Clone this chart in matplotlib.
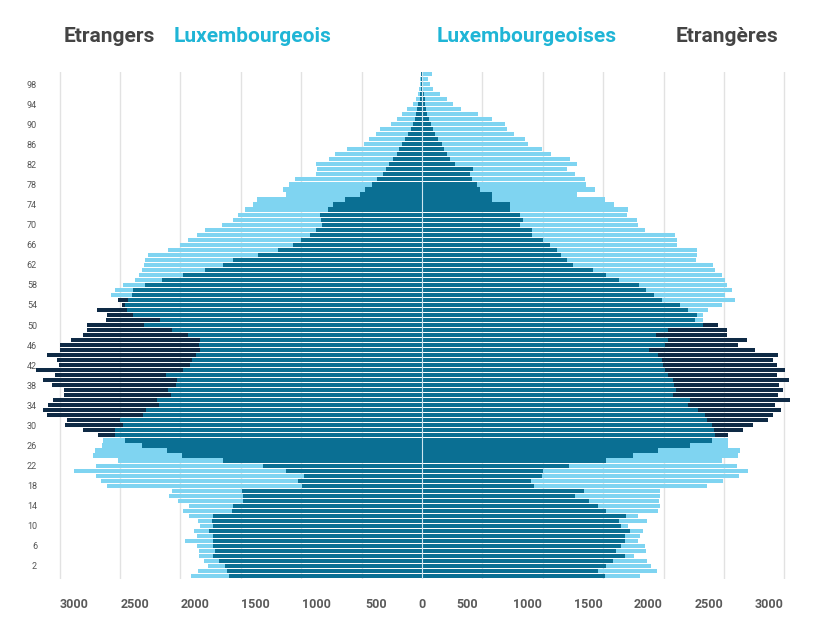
import numpy as np
import matplotlib
matplotlib.use("Agg")
import matplotlib.pyplot as plt
from matplotlib.transforms import ScaledTranslation

plt.rcParams['font.family'] = ['Roboto', 'DejaVu Sans']

ages = list(range(0, 101))

# hommes (gauche)
lux_h = [1915, 1852, 1769, 1805, 1843, 1843, 1865, 1962, 1865, 1887,
         1838, 1852, 1926, 1976, 1926, 2017, 2092, 2072, 2610, 2660,
         2700, 2881, 2699, 2514, 2726, 2707, 2650, 2644, 2541, 2541,
         2472, 2500, 2307, 2285, 2174, 2196, 2081, 2100, 2036, 2031,
         2119, 1976, 1920, 1907, 1871, 1838, 1843, 1838, 1934, 2072,
         2301, 2169, 2390, 2445, 2460, 2431, 2577, 2541, 2473, 2376,
         2340, 2320, 2300, 2290, 2266, 2100, 2003, 1934, 1865, 1796,
         1658, 1562, 1520, 1465, 1396, 1363, 1126, 1153, 1099, 1051,
         877, 872, 877, 768, 720, 624, 480, 437, 381, 348,
         260, 210, 168, 124, 77, 50, 30, 25, 20, 15, 10]
etr_h = [1595, 1617, 1631, 1678, 1733, 1713, 1727, 1727, 1733, 1760,
         1727, 1741, 1733, 1575, 1562, 1479, 1479, 1493, 989, 1024,
         977, 1126, 1314, 1645, 1989, 2114, 2320, 2459, 2680, 2804,
         2955, 2942, 3107, 3140, 3093, 3052, 2964, 2964, 3060, 3140,
         3038, 3198, 3002, 3019, 3107, 2997, 2997, 2908, 2809, 2771,
         2771, 2616, 2611, 2686, 2480, 2514, 2404, 2390, 2293, 2155,
         1976, 1796, 1645, 1562, 1355, 1190, 1067, 1000, 927, 880,
         830, 835, 844, 780, 734, 640, 513, 470, 417, 370,
         320, 295, 271, 240, 210, 190, 168, 140, 113, 90,
         72, 60, 50, 38, 30, 20, 15, 10, 8, 5, 5]

# femmes (droite)
lux_f = [1805, 1943, 1900, 1860, 1755, 1854, 1846, 1791, 1805, 1826,
         1708, 1865, 1791, 1956, 1970, 1964, 1970, 1970, 2356, 2494,
         2627, 2701, 2605, 2480, 2618, 2632, 2536, 2536, 2425, 2417,
         2398, 2356, 2342, 2288, 2205, 2218, 2080, 2102, 2086, 2080,
         2039, 2011, 1998, 1984, 1956, 1882, 2011, 2039, 1937, 2039,
         2329, 2323, 2329, 2370, 2480, 2591, 2508, 2563, 2527, 2508,
         2480, 2425, 2411, 2268, 2279, 2274, 2108, 2108, 2094, 1846,
         1791, 1777, 1700, 1708, 1589, 1515, 1280, 1432, 1355, 1349,
         1266, 1203, 1286, 1225, 1065, 990, 880, 853, 762, 701,
         687, 577, 466, 320, 259, 204, 149, 88, 66, 52, 80]
etr_f = [1515, 1460, 1520, 1578, 1680, 1606, 1645, 1680, 1680, 1722,
         1645, 1634, 1689, 1524, 1460, 1385, 1266, 1341, 927, 899,
         990, 1004, 1219, 1524, 1749, 1956, 2218, 2398, 2536, 2655,
         2743, 2867, 2903, 2969, 2922, 3046, 2950, 2991, 2958, 3041,
         2936, 3005, 2936, 2903, 2950, 2756, 2618, 2687, 2522, 2522,
         2453, 2260, 2274, 2205, 2135, 1990, 1924, 1855, 1800, 1634,
         1524, 1414, 1248, 1200, 1150, 1114, 1059, 1004, 915, 907,
         811, 839, 811, 728, 728, 577, 577, 480, 452, 411,
         397, 425, 273, 230, 204, 180, 162, 130, 110, 90,
         72, 58, 45, 35, 28, 22, 18, 12, 8, 5, 5]

tick_vals = [-3000, -2500, -2000, -1500, -1000, -500, 0, 500, 1000, 1500, 2000, 2500, 3000]
age_ticks = list(range(2, 100, 4))

c_light = '#7fd4f1'
c_mid = '#0a6f93'
c_dark = '#0e2a45'
c_head = '#1fb5d6'

fig = plt.figure(figsize=(8.2, 6.43), dpi=100)
ax = fig.add_axes([0.024, 0.1003, 0.962, 0.7885])

h = 0.82
for sign, lux, etr in [(-1, lux_h, etr_h), (1, lux_f, etr_f)]:
    lux = np.array(lux)
    etr = np.array(etr)
    outer = np.maximum(lux, etr)
    inner = np.minimum(lux, etr)
    cols = [c_dark if e > l else c_light for l, e in zip(lux, etr)]
    ax.barh(ages, sign * outer, height=h, color=cols, zorder=2, linewidth=0)
    ax.barh(ages, sign * inner, height=h, color=c_mid, zorder=3, linewidth=0)

ax.axvline(0, color='#cfe6f0', lw=0.8, zorder=5)

ax.set_xlim(-3330, 3200)
ax.set_ylim(-0.5, 100.5)
ax.set_xticks(tick_vals)
ax.set_xticklabels([str(abs(v)) for v in tick_vals])
ax.set_yticks(age_ticks)
ax.set_yticklabels([str(a) for a in age_ticks])
ax.grid(axis='x', color='#e2e2e2', lw=1, zorder=0)
ax.set_axisbelow(True)
for s in ax.spines.values():
    s.set_visible(False)
ax.tick_params(axis='x', length=0, pad=14, labelsize=9, labelcolor='#5a5a5a')
ax.tick_params(axis='y', length=0, pad=-12.5, labelsize=6.5, labelcolor='#555555')
for lab in ax.get_xticklabels():
    lab.set_fontweight('bold')

# labels sit a little closer to the centre than the grid lines
for v, lab in zip(tick_vals, ax.get_xticklabels()):
    dx = 0.15 if v < 0 else (-0.15 if v > 0 else 0)
    lab.set_transform(lab.get_transform() + ScaledTranslation(dx, 0, fig.dpi_scale_trans))

def head(x, txt, col):
    fig.text(x / 820, 1 - 37 / 643, txt, ha='center', va='center',
             fontsize=15, fontweight='bold', color=col)

head(109, 'Etrangers', '#444444')
head(253, 'Luxembourgeois', c_head)
head(527, 'Luxembourgeoises', c_head)
head(727, 'Etrangères', '#444444')

fig.savefig('out.png', dpi=100)
